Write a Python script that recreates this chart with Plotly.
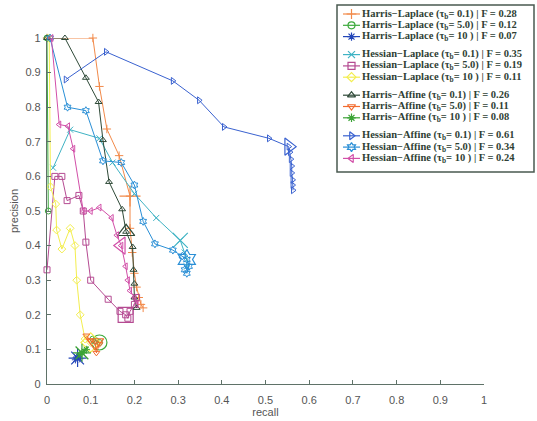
import plotly.graph_objects as go

# Precision/recall curves per detector and threshold
names = [
    "Harris\u2212Laplace", "Harris\u2212Laplace", "Harris\u2212Laplace",
    "Hessian\u2212Laplace", "Hessian\u2212Laplace", "Hessian\u2212Laplace",
    "Harris\u2212Affine", "Harris\u2212Affine", "Harris\u2212Affine",
    "Hessian\u2212Affine", "Hessian\u2212Affine", "Hessian\u2212Affine",
]
thresholds = ["0.1", "5.0", "10 ", "0.1", "5.0", "10 ", "0.1", "5.0", "10 ", "0.1", "5.0", "10 "]

hl01_recall = [0.0, 0.105, 0.12, 0.137, 0.165, 0.19, 0.19, 0.195, 0.2, 0.205, 0.21, 0.215, 0.22]
hl01_prec = [1.0, 1.0, 0.86, 0.737, 0.66, 0.543, 0.45, 0.38, 0.32, 0.28, 0.25, 0.23, 0.22]

hl5_recall = [0.0, 0.003, None, 0.105, 0.112, 0.12]
hl5_prec = [1.0, 0.5, None, 0.13, 0.125, 0.12]

hl10_recall = [0.065, 0.068, 0.07, 0.072, 0.075]
hl10_prec = [0.07, 0.078, 0.075, 0.08, 0.073]

hsl01_recall = [0.014, 0.053, 0.12, 0.15, 0.2, 0.25, 0.305, 0.315, 0.32, 0.32]
hsl01_prec = [0.625, 0.735, 0.71, 0.64, 0.55, 0.48, 0.415, 0.38, 0.36, 0.34]

hsl5_recall = [0.0, 0.018, 0.034, 0.046, 0.073, 0.083, 0.089, 0.1, 0.14, 0.167, 0.18, 0.185, 0.19, 0.2, 0.205]
hsl5_prec = [0.33, 0.60, 0.60, 0.53, 0.545, 0.50, 0.41, 0.30, 0.245, 0.21, 0.20, 0.19, 0.21, 0.23, 0.25]

hsl10_recall = [0.005, 0.008, 0.02, 0.022, 0.034, 0.053, 0.064, 0.068, 0.076, 0.087, 0.1]
hsl10_prec = [1.0, 0.57, 0.52, 0.445, 0.39, 0.45, 0.40, 0.30, 0.20, 0.13, 0.12]

ha01_recall = [0.0, 0.041, 0.089, 0.118, 0.128, 0.142, 0.172, 0.181, 0.196, 0.198, 0.2, 0.2, 0.205]
ha01_prec = [1.0, 1.0, 0.885, 0.815, 0.705, 0.584, 0.505, 0.44, 0.396, 0.33, 0.29, 0.25, 0.22]

ha5_recall = [0.09, 0.1, 0.11, 0.113, 0.12]
ha5_prec = [0.14, 0.125, 0.12, 0.09, 0.115]

ha10_recall = [0.075, 0.08, 0.085, 0.09]
ha10_prec = [0.085, 0.09, 0.095, 0.1]

hsa01_recall = [0.043, 0.135, 0.288, 0.348, 0.405, 0.508, 0.553, 0.556, 0.558, 0.56, 0.56, 0.562, 0.562, 0.563]
hsa01_prec = [0.88, 0.96, 0.876, 0.82, 0.743, 0.71, 0.686, 0.67, 0.65, 0.63, 0.61, 0.59, 0.575, 0.56]

hsa5_recall = [0.007, 0.047, 0.089, 0.128, 0.17, 0.2, 0.22, 0.247, 0.288, 0.31, 0.32, 0.325, 0.32, 0.315]
hsa5_prec = [1.0, 0.80, 0.79, 0.645, 0.64, 0.575, 0.47, 0.405, 0.387, 0.37, 0.36, 0.34, 0.32, 0.33]

hsa10_recall = [0.01, 0.028, 0.048, 0.06, 0.083, 0.1, 0.12, 0.148, 0.16, 0.17, 0.18, 0.185, 0.19, 0.2, 0.205]
hsa10_prec = [1.0, 0.75, 0.745, 0.68, 0.50, 0.50, 0.51, 0.48, 0.43, 0.40, 0.34, 0.30, 0.27, 0.25, 0.23]

recalls = [hl01_recall, hl5_recall, hl10_recall, hsl01_recall, hsl5_recall, hsl10_recall,
           ha01_recall, ha5_recall, ha10_recall, hsa01_recall, hsa5_recall, hsa10_recall]
precisions = [hl01_prec, hl5_prec, hl10_prec, hsl01_prec, hsl5_prec, hsl10_prec,
              ha01_prec, ha5_prec, ha10_prec, hsa01_prec, hsa5_prec, hsa10_prec]

# index of the operating point with the best F-measure in each curve
best_index = [5, 5, 2, 6, 10, 10, 7, 2, 1, 6, 10, 9]

tick_vals = [0, 0.1, 0.2, 0.3, 0.4, 0.5, 0.6, 0.7, 0.8, 0.9, 1]
tick_text = ["0", "0.1", "0.2", "0.3", "0.4", "0.5", "0.6", "0.7", "0.8", "0.9", "1"]

colors = ["#f28a4a", "#3daa3d", "#2346b8", "#3fb3c4", "#b54b92", "#f3ee4e",
          "#2f4a38", "#f26b2e", "#3aa335", "#3a62d0", "#2a8fd6", "#d24fa8"]
symbols = ["cross-thin-open", "circle-open", "asterisk-open", "x-thin-open", "square-open", "diamond-open",
           "triangle-up-open", "triangle-down-open", "asterisk-open", "triangle-right-open", "hexagram-open",
           "triangle-left-open"]

W, H = 537, 421
fig = go.Figure()

# curves on the main axes, plus an enlarged mark at the best-F point
for i in range(12):
    xs, ys = recalls[i], precisions[i]
    bx, by = xs[best_index[i]], ys[best_index[i]]
    fig.add_trace(go.Scatter(
        x=xs, y=ys, mode="lines+markers",
        line=dict(color=colors[i], width=1),
        marker=dict(symbol=symbols[i], size=6, color=colors[i], line=dict(color=colors[i], width=1)),
        cliponaxis=False, showlegend=False,
    ))
    fig.add_trace(go.Scatter(
        x=[bx], y=[by], mode="markers",
        marker=dict(symbol=symbols[i], size=15, color=colors[i], line=dict(color=colors[i], width=1.2)),
        cliponaxis=False, showlegend=False,
    ))

# legend drawn on a pixel-space overlay (x2/y2)
row_y = []
y = 14.0
for i in range(12):
    if i > 0:
        y += 11.3 if i % 3 else 18.0
    row_y.append(y)

box = dict(x0=337, x1=534, y0=5, y1=172)
sample_x0, sample_x1, text_x = 343, 360, 360
annotations = []
for i in range(12):
    xs, ys = recalls[i], precisions[i]
    bx, by = xs[best_index[i]], ys[best_index[i]]
    f = 2 * bx * by / (bx + by)
    label = f"{names[i]} (\u03c4<sub>b</sub>= {thresholds[i]}) | F = {f:.2f}"
    fig.add_trace(go.Scatter(
        x=[sample_x0, sample_x1], y=[row_y[i], row_y[i]], mode="lines",
        line=dict(color=colors[i], width=1.2), xaxis="x2", yaxis="y2", showlegend=False,
    ))
    fig.add_trace(go.Scatter(
        x=[(sample_x0 + sample_x1) / 2], y=[row_y[i]], mode="markers",
        marker=dict(symbol=symbols[i], size=7, color=colors[i], line=dict(color=colors[i], width=1.2)),
        xaxis="x2", yaxis="y2", showlegend=False, cliponaxis=False,
    ))
    annotations.append(dict(
        x=text_x, y=row_y[i], xref="x2", yref="y2", text=label, showarrow=False,
        xanchor="left", yanchor="middle",
        font=dict(family="Liberation Serif", size=10.5, color="#2f3f35", weight="bold"),
    ))

axis_color = "#5f7268"
label_font = dict(family="Liberation Sans", size=11, color="#555555")
axis_common = dict(
    range=[0, 1], tickvals=tick_vals, ticktext=tick_text, ticks="inside", ticklen=4,
    tickcolor=axis_color, showline=True, linecolor=axis_color, linewidth=1.2,
    showgrid=False, zeroline=False, mirror=False, tickfont=label_font, fixedrange=True,
)

fig.update_layout(
    width=W, height=H,
    margin=dict(l=0, r=0, t=0, b=0, autoexpand=False),
    paper_bgcolor="white", plot_bgcolor="rgba(0,0,0,0)",
    xaxis=dict(**axis_common, domain=[47 / W, 484 / W], anchor="y", ticklabelstandoff=6,
               title=dict(text="recall", font=label_font, standoff=3)),
    yaxis=dict(**axis_common, domain=[(H - 384) / H, (H - 38) / H], anchor="x", ticklabelstandoff=3,
               title=dict(text="precision", font=label_font, standoff=4)),
    xaxis2=dict(domain=[0, 1], range=[0, W], visible=False, anchor="y2", fixedrange=True),
    yaxis2=dict(domain=[0, 1], range=[H, 0], visible=False, anchor="x2", fixedrange=True),
    shapes=[dict(type="rect", xref="x2", yref="y2", layer="below",
                 fillcolor="white", line=dict(color="#4a5a50", width=1.5), **box)],
    annotations=annotations,
    showlegend=False,
)

fig.write_html("out.html")
